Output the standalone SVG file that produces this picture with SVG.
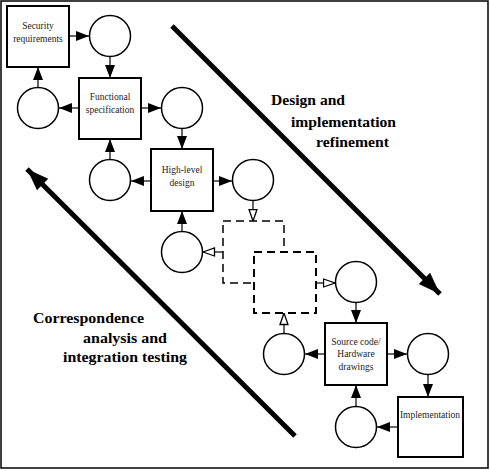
<svg xmlns="http://www.w3.org/2000/svg" width="490" height="471" viewBox="0 0 490 471">
<style>
.box{fill:#fff;stroke:#000;stroke-width:2}
.circ{fill:#fff;stroke:#000;stroke-width:1.5}
.dash{fill:#fff;stroke:#000;stroke-dasharray:8 5}
.lbl{font-family:'Liberation Serif','Times New Roman','DejaVu Serif',serif;font-size:9.5px;fill:#222;text-anchor:middle}
.big{font-family:'Liberation Serif','Times New Roman','DejaVu Serif',serif;font-size:14.5px;font-weight:bold;fill:#000}
.c{stroke:#000;stroke-width:1.2;fill:none}
.co{stroke:#000;stroke-width:1.2;fill:none}
.bigarrow{stroke:#000;stroke-width:5;fill:none}
</style>
<defs>
<marker id="fa" markerUnits="userSpaceOnUse" markerWidth="14" markerHeight="11" refX="13" refY="5" orient="auto"><path d="M0,0 L13,5 L0,10 z" fill="#000"/></marker>
<marker id="oa" markerUnits="userSpaceOnUse" markerWidth="14" markerHeight="11" refX="12.5" refY="5" orient="auto"><path d="M1,1 L12.5,5 L1,9 z" fill="#fff" stroke="#000" stroke-width="1.3"/></marker>
<marker id="ba" markerUnits="userSpaceOnUse" markerWidth="24" markerHeight="18" refX="22" refY="8" orient="auto"><path d="M0,0 L22,8 L0,16 z" fill="#000"/></marker>
</defs>
<rect x="1" y="1" width="487" height="467" fill="#fff" stroke="#000" stroke-width="1.5"/>
<g id="connectors">
<line class="c" x1="69" y1="36" x2="89" y2="36" marker-end="url(#fa)"/>
<line class="c" x1="110" y1="57" x2="110" y2="78" marker-end="url(#fa)"/>
<line class="c" x1="79" y1="108" x2="59" y2="108" marker-end="url(#fa)"/>
<line class="c" x1="38" y1="88" x2="38" y2="67" marker-end="url(#fa)"/>
<line class="c" x1="141" y1="108" x2="161" y2="108" marker-end="url(#fa)"/>
<line class="c" x1="182" y1="129" x2="182" y2="149" marker-end="url(#fa)"/>
<line class="c" x1="151" y1="181" x2="131" y2="181" marker-end="url(#fa)"/>
<line class="c" x1="110" y1="160" x2="110" y2="139" marker-end="url(#fa)"/>
<line class="c" x1="213" y1="181" x2="232" y2="181" marker-end="url(#fa)"/>
<line class="c" x1="182" y1="231" x2="182" y2="211" marker-end="url(#fa)"/>
<line class="co" x1="253" y1="201" x2="253" y2="221" marker-end="url(#oa)"/>
<line class="co" x1="223" y1="252" x2="203" y2="252" marker-end="url(#oa)"/>
<line class="co" x1="316" y1="283" x2="335" y2="283" marker-end="url(#oa)"/>
<line class="co" x1="284" y1="333" x2="284" y2="313" marker-end="url(#oa)"/>
<line class="c" x1="356" y1="303" x2="356" y2="323" marker-end="url(#fa)"/>
<line class="c" x1="325" y1="354" x2="305" y2="354" marker-end="url(#fa)"/>
<line class="c" x1="387" y1="354" x2="407" y2="354" marker-end="url(#fa)"/>
<line class="c" x1="428" y1="375" x2="428" y2="397" marker-end="url(#fa)"/>
<line class="c" x1="398" y1="427" x2="377" y2="427" marker-end="url(#fa)"/>
<line class="c" x1="356" y1="406" x2="356" y2="385" marker-end="url(#fa)"/>
<line class="bigarrow" x1="172" y1="26" x2="440" y2="294" marker-end="url(#ba)"/>
<line class="bigarrow" x1="295" y1="436" x2="27" y2="169" marker-end="url(#ba)"/>
</g>
<g id="security"><rect class="box" x="7" y="6" width="62" height="61"/><text class="lbl" x="38" y="29">Security</text><text class="lbl" x="38" y="42">requirements</text></g>
<g id="c1"><circle class="circ" cx="110" cy="36" r="20.5"/></g>
<g id="functional"><rect class="box" x="79" y="78" width="62" height="61"/><text class="lbl" x="110" y="100">Functional</text><text class="lbl" x="110" y="113">specification</text></g>
<g id="c2"><circle class="circ" cx="38" cy="108" r="20.5"/></g>
<g id="c3"><circle class="circ" cx="182" cy="108" r="20.5"/></g>
<g id="highlevel"><rect class="box" x="151" y="149" width="62" height="62"/><text class="lbl" x="182" y="173">High-level</text><text class="lbl" x="182" y="186">design</text></g>
<g id="c4"><circle class="circ" cx="110" cy="180" r="20.5"/></g>
<g id="c5"><circle class="circ" cx="253" cy="180" r="20.5"/></g>
<g id="c6"><circle class="circ" cx="182" cy="252" r="20.5"/></g>
<g id="dashed1"><rect class="dash" x="223" y="221" width="61" height="62" stroke-width="1.5"/></g>
<g id="dashed2"><rect class="dash" x="254" y="252" width="62" height="61" stroke-width="2"/></g>
<g id="c7"><circle class="circ" cx="356" cy="282" r="20.5"/></g>
<g id="c8"><circle class="circ" cx="284" cy="354" r="20.5"/></g>
<g id="source"><rect class="box" x="325" y="323" width="62" height="62" stroke-width="1.5"/><text class="lbl" x="356" y="345">Source code/</text><text class="lbl" x="356" y="357">Hardware</text><text class="lbl" x="356" y="370">drawings</text></g>
<g id="c9"><circle class="circ" cx="428" cy="354" r="20.5"/></g>
<g id="implementation"><rect class="box" x="398" y="397" width="65" height="60" stroke-width="1.2"/><text class="lbl" x="430" y="418">Implementation</text></g>
<g id="c10"><circle class="circ" cx="356" cy="427" r="20.5"/></g>
<g id="labels">
<text class="big" x="271" y="105" textLength="74" lengthAdjust="spacingAndGlyphs">Design and</text>
<text class="big" x="291" y="127" textLength="105" lengthAdjust="spacingAndGlyphs">implementation</text>
<text class="big" x="316" y="147" textLength="73" lengthAdjust="spacingAndGlyphs">refinement</text>
<text class="big" x="33" y="323" textLength="111" lengthAdjust="spacingAndGlyphs">Correspondence</text>
<text class="big" x="83" y="343" textLength="84" lengthAdjust="spacingAndGlyphs">analysis and</text>
<text class="big" x="63" y="362" textLength="124" lengthAdjust="spacingAndGlyphs">integration testing</text>
</g>
</svg>
